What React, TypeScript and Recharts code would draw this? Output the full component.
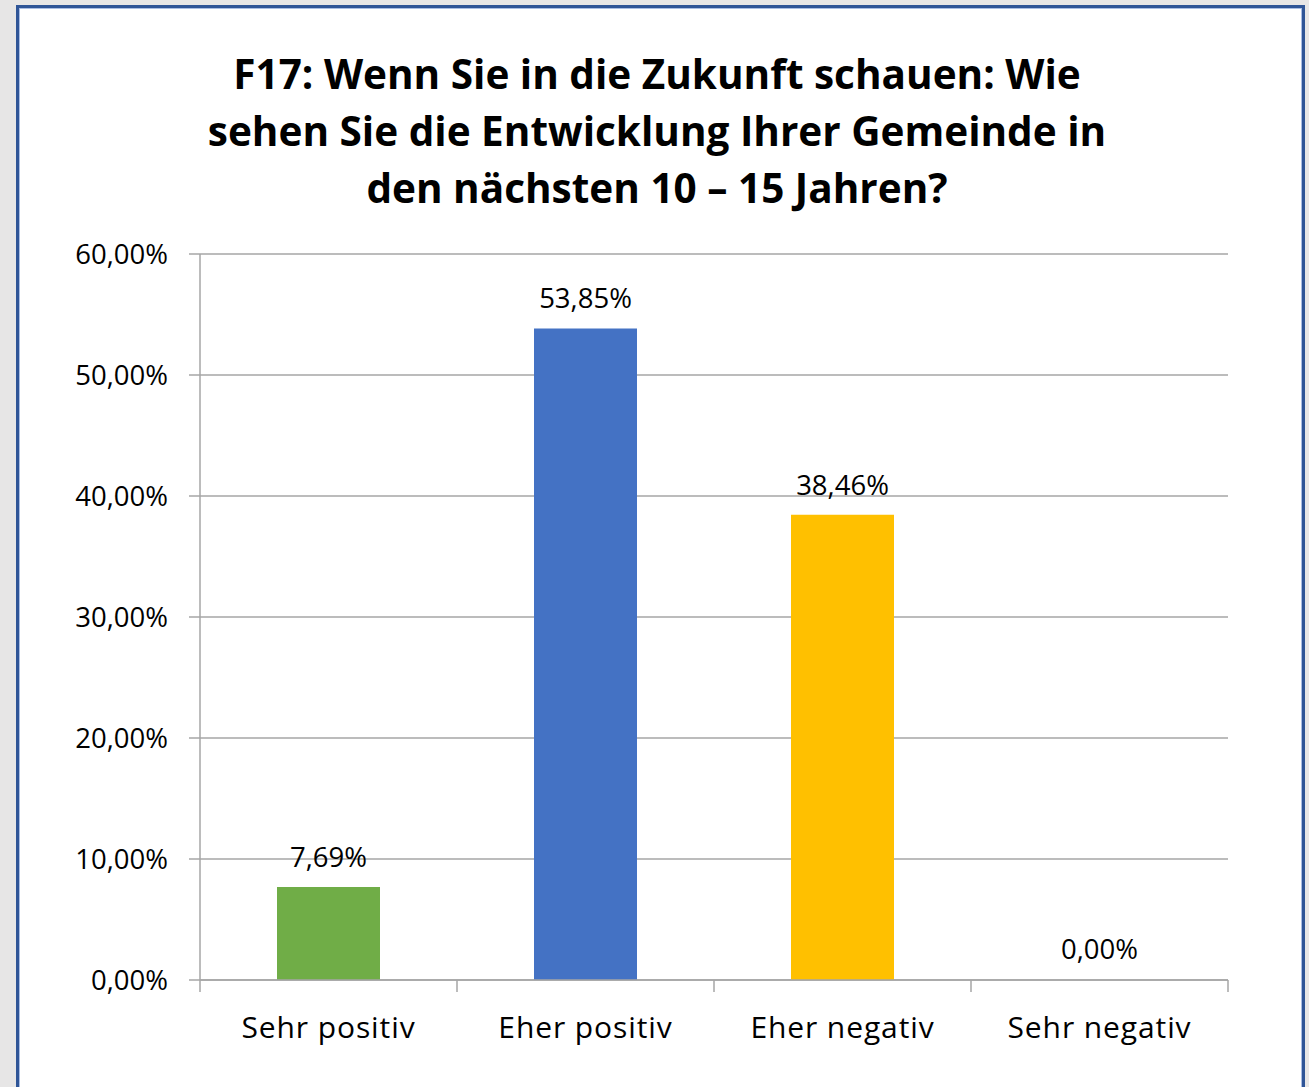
import React from 'react';
import { BarChart, Bar, XAxis, YAxis, CartesianGrid, Cell, LabelList } from 'recharts';

const categories = ['Sehr positiv', 'Eher positiv', 'Eher negativ', 'Sehr negativ'];
const shares = [0.0769, 0.5385, 0.3846, 0.0];
const barColors = ['#70AD47', '#4472C4', '#FFC000', 'transparent'];
const yTicks = [0, 0.1, 0.2, 0.3, 0.4, 0.5, 0.6];
const titleLines = [
  'F17: Wenn Sie in die Zukunft schauen: Wie',
  'sehen Sie die Entwicklung Ihrer Gemeinde in',
  'den nächsten 10 – 15 Jahren?',
];

const data = categories.map((name, i) => ({ name, value: shares[i] }));

const W = 1309;
const H = 1087;
const PLOT_LEFT = 200;
const PLOT_RIGHT = 1228;
const BAND = (PLOT_RIGHT - PLOT_LEFT) / categories.length;
const FONT = '"Open Sans", sans-serif';
const GRID = '#A6A6A6';

const pct = (v: number) => `${(v * 100).toFixed(2).replace('.', ',')}%`;

function CategoryTick(props: any) {
  const { x, y, payload, index } = props;
  const last = index === categories.length - 1;
  return (
    <g>
      <line x1={x - BAND / 2} x2={x - BAND / 2} y1={y - 8} y2={y + 4} stroke={GRID} strokeWidth={1.5} />
      {last && (
        <line x1={x + BAND / 2} x2={x + BAND / 2} y1={y - 8} y2={y + 4} stroke={GRID} strokeWidth={1.5} />
      )}
      <text x={x} y={y + 50} textAnchor="middle" fontFamily={FONT} fontSize={30} fill="#000" letterSpacing={0.9}>
        {payload.value}
      </text>
    </g>
  );
}

export default function App() {
  return (
    <div style={{ position: 'absolute', left: 0, top: 0, width: W, height: H, background: '#E7E6E6', overflow: 'hidden' }}>
      <div
        style={{
          position: 'absolute',
          left: 16,
          top: 5,
          width: 1283,
          height: 1100,
          background: '#fff',
          border: '3px solid #2F5597',
          borderBottom: 'none',
          boxShadow: 'inset 1px 1px 0 #A9BDE3, inset -1px 0 0 #A9BDE3',
        }}
      />
      <div
        style={{
          position: 'absolute',
          left: 0,
          top: 45,
          width: 1314,
          textAlign: 'center',
          fontFamily: FONT,
          fontWeight: 700,
          fontSize: 40.5,
          lineHeight: '57px',
          color: '#000',
        }}
      >
        {titleLines.map((l) => (
          <div key={l}>{l}</div>
        ))}
      </div>
      <div style={{ position: 'absolute', left: 0, top: 0 }}>
        <BarChart
          width={W}
          height={H}
          data={data}
          margin={{ top: 254, right: W - PLOT_RIGHT, left: 0, bottom: 0 }}
          barCategoryGap="30%"
        >
          <CartesianGrid vertical={false} stroke={GRID} strokeWidth={1.5} />
          <YAxis
            width={PLOT_LEFT}
            domain={[0, 0.6]}
            ticks={yTicks}
            tickFormatter={pct}
            axisLine={{ stroke: GRID, strokeWidth: 1.5 }}
            tickLine={{ stroke: GRID, strokeWidth: 1.5 }}
            tickSize={11}
            tickMargin={21}
            tick={{ fontFamily: FONT, fontSize: 27.5, fill: '#000' }}
          />
          <XAxis
            dataKey="name"
            height={H - 980}
            axisLine={{ stroke: GRID, strokeWidth: 1.5 }}
            tickLine={false}
            tick={<CategoryTick />}
            interval={0}
          />
          <Bar dataKey="value" isAnimationActive={false} barSize={103} minPointSize={1}>
            {data.map((d, i) => (
              <Cell key={d.name} fill={barColors[i]} />
            ))}
            <LabelList
              dataKey="value"
              position="top"
              offset={20}
              formatter={(v: any) => pct(Number(v))}
              style={{ fontFamily: FONT, fontSize: 27.5, fill: '#000' }}
            />
          </Bar>
        </BarChart>
      </div>
    </div>
  );
}
